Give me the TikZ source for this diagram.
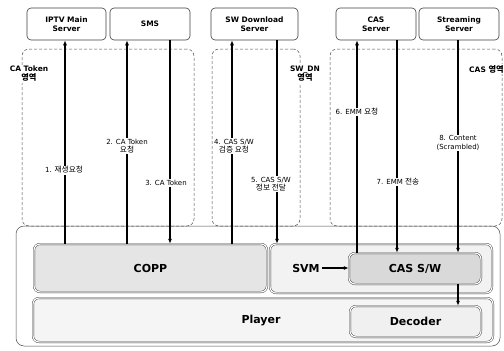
\documentclass[tikz,border=0pt]{standalone}
\usepackage{fontspec}
\setmainfont{DejaVu Sans}
\newfontfamily\krfont[Scale=1.1]{Noto Sans CJK KR}
\newcommand\kor[1]{{\krfont #1}}
\usetikzlibrary{arrows.meta}
\begin{document}
\begin{tikzpicture}[x=1pt,y=-1pt,
  server/.style={draw=black!75, line width=0.6pt, rounded corners=4pt, minimum height=32pt, align=center, font=\bfseries\fontsize{7.5}{9}\selectfont, inner sep=1pt},
  region/.style={draw=black!70, densely dashed, line width=0.5pt, rounded corners=7pt, inner sep=0pt},
  outerbox/.style={draw=black!70, line width=0.5pt, rounded corners=8pt, inner sep=0pt},
  inbox/.style={draw=black!80, line width=0.4pt, double=white, double distance=1.2pt, rounded corners=6pt, inner sep=0pt},
  big/.style={font=\bfseries\fontsize{11}{13}\selectfont},
  lbl/.style={fill=white, inner sep=1pt, align=center, font=\fontsize{7}{8.5}\selectfont},
  rlbl/.style={fill=white, inner sep=1pt, align=center, font=\bfseries\fontsize{7.5}{9}\selectfont},
  arr/.style={-{Latex[length=5pt,width=4pt]}, line width=1.1pt}]
\useasboundingbox (0,0) rectangle (504,351);
\fill[white] (0,0) rectangle (504,351);
% servers
\node[server, minimum width=79pt] (iptv) at (66.5,24) {IPTV Main\\Server};
\node[server, minimum width=80pt] (sms) at (150,24) {SMS};
\node[server, minimum width=87pt] (swd) at (254.5,24) {SW Download\\Server};
\node[server, minimum width=80pt] (cass) at (376,24) {CAS\\Server};
\node[server, minimum width=80pt] (strm) at (459,24) {Streaming\\Server};
% regions
\node[region, minimum width=172pt, minimum height=177pt] (catoken) at (108,137.5) {};
\node[region, minimum width=88pt, minimum height=177pt] (swdn) at (256,137.5) {};
\node[region, minimum width=172pt, minimum height=177pt] (casreg) at (416,137.5) {};
% terminal
\node[outerbox, minimum width=484pt, minimum height=120pt] (term) at (258,286) {};
% inner boxes
\node[inbox, fill=gray!20, minimum width=233pt, minimum height=48pt, big] (copp) at (150.5,268) {COPP};
\node[inbox, fill=gray!10, minimum width=222pt, minimum height=49pt] (svmbox) at (381,268.5) {};
\node[inbox, fill=gray!30, minimum width=132pt, minimum height=31pt, big] (cassw) at (415,268.5) {CAS S/W};
\node[big, inner sep=2pt] (svm) at (306,268) {SVM};
\node[inbox, fill=gray!8, minimum width=460pt, minimum height=44pt] (player) at (263,320) {};
\node[big] (playertxt) at (261,321) {Player};
\node[inbox, fill=gray!12, minimum width=131pt, minimum height=31pt, big] (decoder) at (415.5,321.5) {Decoder};
% x positions
\coordinate (a1) at (65,0);
\coordinate (a2) at (127,0);
\coordinate (a3) at (170,0);
\coordinate (a4) at (232,0);
\coordinate (a5) at (277,0);
\coordinate (a6) at (357,0);
\coordinate (a7) at (397,0);
\coordinate (a8) at (458,0);
% arrows
\draw[arr] (copp.north -| a1) -- (iptv.south -| a1);
\draw[arr] (copp.north -| a2) -- (sms.south -| a2);
\draw[arr] (sms.south -| a3) -- (copp.north -| a3);
\draw[arr] (copp.north -| a4) -- (swd.south -| a4);
\draw[arr] (swd.south -| a5) -- (svmbox.north -| a5);
\draw[arr] (cassw.north -| a6) -- (cass.south -| a6);
\draw[arr] (cass.south -| a7) -- (cassw.north -| a7);
\draw[arr] (strm.south -| a8) -- (cassw.north -| a8);
\draw[arr] (cassw.south -| a8) -- (decoder.north -| a8);
\draw[arr] (svm.east) -- (svm.east -| cassw.west);
% labels
\node[lbl] (l1) at (64,170) {1. \kor{재생요청}};
\node[lbl] (l2) at (127,146) {2. CA Token\\\kor{요청}};
\node[lbl] (l3) at (166,183) {3. CA Token};
\node[lbl] (l4) at (234,146) {4. CAS S/W\\\kor{검증 요청}};
\node[lbl] (l5) at (271,184) {5. CAS S/W\\\kor{정보 전달}};
\node[lbl] (l6) at (357,112) {6. EMM \kor{요청}};
\node[lbl] (l7) at (398,182) {7. EMM \kor{전송}};
\node[lbl] (l8) at (458,143) {8. Content\\(Scrambled)};
% region labels
\node[rlbl] (r1) at (29,74) {CA Token\\\kor{영역}};
\node[rlbl] (r2) at (305,74) {SW\_DN\\\kor{영역}};
\node[rlbl, anchor=west] (r3) at (468,69) {CAS \kor{영역}};
\end{tikzpicture}
\end{document}
